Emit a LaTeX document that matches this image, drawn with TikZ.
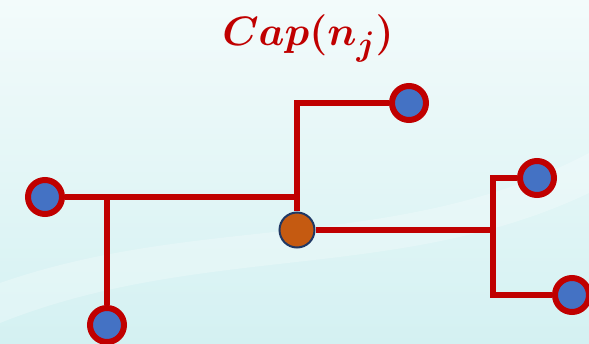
\documentclass[tikz,border=0pt]{standalone}
\usepackage{amsmath,amssymb,bm}
\usepackage{tikz}
\usetikzlibrary{positioning}
\definecolor{wire}{HTML}{C00000}
\definecolor{leafblue}{HTML}{4472C4}
\definecolor{rootorange}{HTML}{C55A11}
\definecolor{rootrim}{HTML}{203864}
\definecolor{bgtop}{HTML}{F3FBFB}
\definecolor{bgbottom}{HTML}{D4F1F2}

\begin{document}
\begin{tikzpicture}[
  x=1pt, y=1pt,
  leaf/.style={circle, draw=wire, fill=leafblue, line width=6pt, minimum size=34pt, inner sep=0pt},
  root/.style={circle, draw=rootrim, fill=rootorange, line width=2pt, minimum size=35pt, inner sep=0pt},
  link/.style={draw=wire, line width=6pt}
]
  % Background
  \shade[top color=bgtop, bottom color=bgbottom] (0,0) rectangle (589,343);
  \fill[white, opacity=0.25] (0,60) .. controls (200,130) and (400,90) .. (589,190) -- (589,150) .. controls (400,60) and (200,100) .. (0,20) -- cycle;
  \useasboundingbox (0,0) rectangle (589,343);

  % Title
  \node[anchor=base, text=wire, font=\Huge, scale=1.65] (title) at (308,297) {$\bm{Cap(n_j)}$};

  % Nodes
  \node[root] (O) at (297,113) {};
  \node[leaf] (L) at (45,146) {};
  \node[leaf] (B) at (107,18) {};
  \node[leaf] (T) at (409,240) {};
  \node[leaf] (TR) at (537,165) {};
  \node[leaf] (BR) at (572,48) {};
  \coordinate (jr) at (493,113);

  % Links
  \draw[link] (L) -- (L -| O);
  \draw[link] (L -| B) -- (B);
  \draw[link] (T) -| (O);
  \draw[link] (O) -- (jr);
  \draw[link] (TR) -- (TR -| jr) -- (BR -| jr) -- (BR);

\end{tikzpicture}
\end{document}
